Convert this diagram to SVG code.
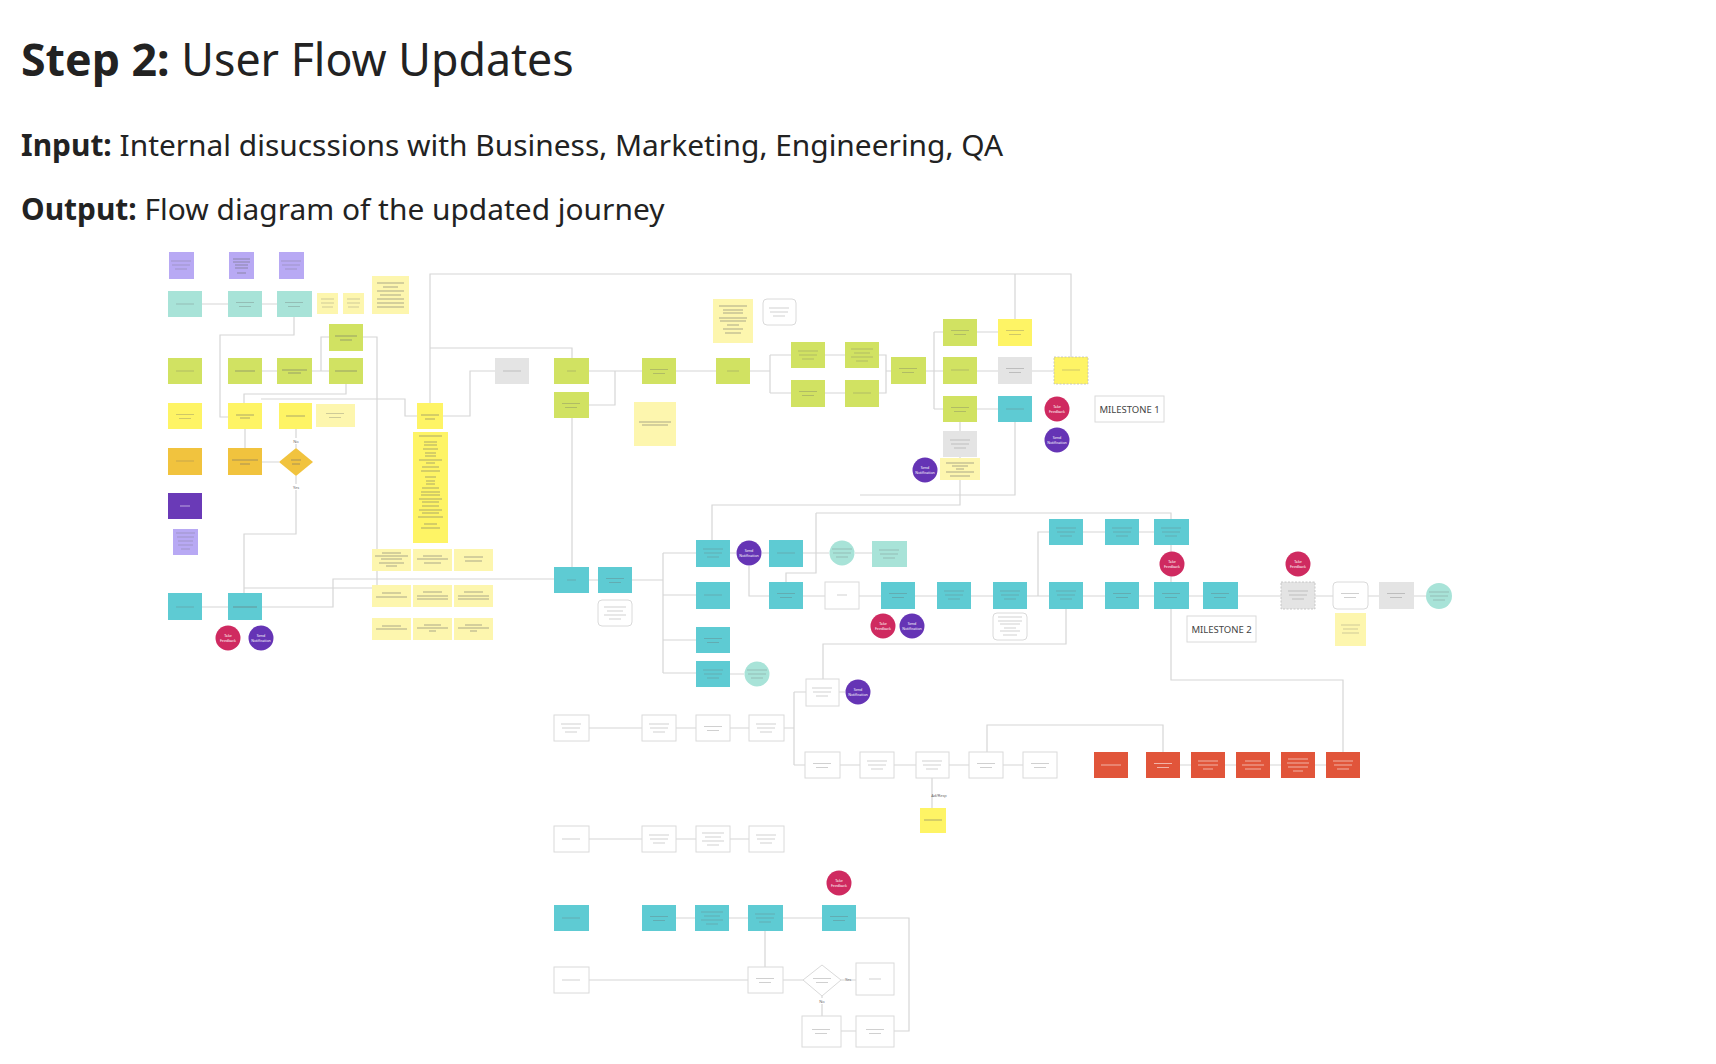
<svg xmlns="http://www.w3.org/2000/svg" xmlns:xlink="http://www.w3.org/1999/xlink" width="1716" height="1064" viewBox="0 0 1716 1064">
<style>
.h{font-family:"Noto Sans","Open Sans",sans-serif;fill:#222}
.c{fill:none;stroke:#d6d6d6;stroke-width:1.2}
.pl{fill:#b8a9f4}.mt{fill:#a8e3d8}.tq{fill:#5ecbd3}.gr{fill:#d1e262}.ye{fill:#fef465}.ly{fill:#fdf6ae}
.og{fill:#f1c33e}.dp{fill:#6a3ab7}.rd{fill:#cf2a60}.pc{fill:#6534b5}.gy{fill:#e4e4e4}.or{fill:#e1553a}
.w{fill:#fff;stroke:#dadada;stroke-width:1}
.ds{stroke:#bdbdbd;stroke-width:.8;stroke-dasharray:2 1.5}
.tl{stroke:#6b6b6b;stroke-width:1;opacity:.55;fill:none}
.tb{stroke:#6b6b6b;stroke-width:.8;opacity:.4;fill:none}
.tw{stroke:#fff;stroke-width:.8;opacity:.7;fill:none}
.ct{font-family:"Noto Sans",sans-serif;font-size:3.6px;fill:#fff;text-anchor:middle}
.lb{font-family:"Noto Sans",sans-serif;font-size:4px;fill:#666;text-anchor:middle}
.ms{font-family:"Noto Sans",sans-serif;font-size:9.5px;fill:#444;text-anchor:middle}
</style>
<defs>
<g id="b1"><path class="tb" d="M-9 0h18"/></g>
<g id="b2"><path class="tb" d="M-9 -1.5h18M-6 2.5h12"/></g>
<g id="b3"><path class="tb" d="M-10 -4h20M-9 0h18M-6 4h12"/></g>
<g id="b4"><path class="tb" d="M-11 -6h22M-8 -2h16M-11 2h22M-6 6h12"/></g>
<g id="w2"><path class="tw" d="M-9 -1.5h18M-6 2.5h12"/></g>
</defs>
<rect width="1716" height="1064" fill="#fff"/>

<g id="header">
<text class="h" x="21" y="76" font-size="44.7"><tspan font-weight="bold">Step 2:</tspan> User Flow Updates</text>
<text class="h" x="21" y="156" font-size="29.9"><tspan font-weight="bold">Input:</tspan> Internal disucssions with Business, Marketing, Engineering, QA</text>
<text class="h" x="21" y="220" font-size="29.9"><tspan font-weight="bold">Output:</tspan> Flow diagram of the updated journey</text>
</g>

<g id="connectors">
<path class="c" d="M202 304H228M262 304H277"/>
<path class="c" d="M294 317V335H220V417H228"/>
<path class="c" d="M262 371H277M312 371H329M321 371V337H329"/>
<path class="c" d="M363 337H377V588"/>
<path class="c" d="M346 384V394H244V403"/>
<path class="c" d="M261 399H405V416H417"/>
<path class="c" d="M245 429V448M262 462H279M296 448V429"/>
<path class="c" d="M296 476V534H244V593M244 588H377"/>
<path class="c" d="M202 607H228M262 607H333V579H554"/>
<path class="c" d="M430 403V274H1071V357M1015 274V319M430 348H572V358"/>
<path class="c" d="M443 416H470V371H495"/>
<path class="c" d="M589 371H642M589 405H615V371M676 371H716"/>
<path class="c" d="M750 371H770M770 355V393M770 355H791M770 393H791M825 355H845M825 393H845"/>
<path class="c" d="M879 355H886V393H879M886 371H891M926 371H934M934 332V409M934 332H943M934 371H943M934 409H943"/>
<path class="c" d="M977 332H998M977 371H998M977 409H998M1032 371H1054"/>
<path class="c" d="M960 422V431M960 457V458M1015 422V495H860M712 540V505H960V480"/>
<path class="c" d="M572 418V567M589 580H598M632 580H663M663 553V673M663 553H696M663 595H696M663 640H696M663 673H696"/>
<path class="c" d="M730 553H736M762 553H769M749 566V596H769M803 553H829M855 553H872"/>
<path class="c" d="M803 596H825M859 596H881M915 596H937M971 596H993M1027 596H1049M1038 596V532H1049M1083 532H1105M1139 532H1154"/>
<path class="c" d="M1083 596H1105M1139 596H1154M1189 596H1203M1238 596H1281M1315 596H1333M1368 596H1379M1414 596H1426"/>
<path class="c" d="M816 513H1171V680H1343V752M816 513V573H786V582"/>
<path class="c" d="M1066 609V644H823V679M730 674H744"/>
<path class="c" d="M784 728H794M794 692V765M794 692H806M794 765H805M839 692H845"/>
<path class="c" d="M589 728H642M676 728H696M730 728H749"/>
<path class="c" d="M840 765H860M894 765H916M949 765H969M1003 765H1023M987 752V725H1163V752M932 778V808"/>
<path class="c" d="M1180 765H1191M1225 765H1236M1270 765H1281M1315 765H1326"/>
<path class="c" d="M589 839H642M676 839H696M730 839H749"/>
<path class="c" d="M676 918H695M729 918H748M783 918H822M856 918H909V1031H894M856 1031H841"/>
<path class="c" d="M765 931V967M589 980H748M783 980H803M841 980H856M822 996V1016"/>
<rect x="290" y="438" width="12" height="6" fill="#fff"/><text class="lb" x="296" y="443">No</text>
<rect x="289" y="484" width="14" height="6" fill="#fff"/><text class="lb" x="296" y="489">Yes</text>
<text class="lb" x="848" y="981">Yes</text>
<rect x="817" y="998" width="10" height="6" fill="#fff"/><text class="lb" x="822" y="1003">No</text>
</g>

<g id="legend-left">
<g id="p1"><rect class="pl" x="169" y="252" width="25" height="27"/><use href="#b3" x="181" y="265"/></g>
<g id="p2"><rect class="pl" x="229" y="252" width="25" height="27"/><path class="tl" d="M233 259h17M233 262h17M235 265h13M235 268h13M237 273h9"/></g>
<g id="p3"><rect class="pl" x="279" y="252" width="25" height="27"/><use href="#b3" x="291" y="265"/></g>
<g id="m1"><rect class="mt" x="168" y="291" width="34" height="26"/><use href="#b1" x="185" y="304"/></g>
<g id="m2"><rect class="mt" x="228" y="291" width="34" height="26"/><use href="#b2" x="245" y="304"/></g>
<g id="m3"><rect class="mt" x="277" y="291" width="35" height="26"/><use href="#b2" x="294" y="304"/></g>
<g id="s1"><rect class="ly" x="317" y="293" width="21" height="21"/><path class="tb" d="M321 299h13M321 303h13M322 307h11"/></g>
<g id="s2"><rect class="ly" x="343" y="293" width="21" height="21"/><path class="tb" d="M347 299h13M347 303h13M348 307h11"/></g>
<g id="s3"><rect class="ly" x="372" y="276" width="37" height="38"/><path class="tl" d="M377 283h27M383 287h15M377 291h27M380 295h21M377 299h27M377 303h27M377 307h27"/></g>
<g id="g0"><rect class="gr" x="329" y="324" width="34" height="27"/><path class="tl" d="M335 336h22M340 340h12"/></g>
<g id="g1"><rect class="gr" x="168" y="358" width="34" height="26"/><use href="#b1" x="185" y="371"/></g>
<g id="g2"><rect class="gr" x="228" y="358" width="34" height="26"/><path class="tl" d="M235 371h20"/></g>
<g id="g3"><rect class="gr" x="277" y="358" width="35" height="26"/><path class="tl" d="M282 370h25M288 373h13"/></g>
<g id="g4"><rect class="gr" x="329" y="358" width="34" height="26"/><path class="tl" d="M335 371h22"/></g>
<g id="y1"><rect class="ye" x="168" y="403" width="34" height="26"/><use href="#b2" x="185" y="416"/></g>
<g id="y2"><rect class="ye" x="228" y="403" width="34" height="26"/><path class="tl" d="M236 415h18M240 418h10"/></g>
<g id="y3"><rect class="ye" x="279" y="403" width="33" height="26"/><path class="tl" d="M286 416h19"/></g>
<g id="y4"><rect class="ly" x="316" y="404" width="39" height="23"/><use href="#b2" x="335" y="415"/></g>
<g id="o1"><rect class="og" x="168" y="448" width="34" height="27"/><use href="#b1" x="185" y="461"/></g>
<g id="o2"><rect class="og" x="228" y="448" width="34" height="27"/><path class="tl" d="M232 460h26M240 464h10"/></g>
<g id="o3"><path class="og" d="M296 448L313 462L296 476L279 462Z"/><path class="tl" d="M291 460h10M292 464h8"/></g>
<g id="d1"><rect class="dp" x="168" y="493" width="34" height="26"/><path class="tw" d="M180 506h10"/></g>
<g id="p4"><rect class="pl" x="173" y="529" width="25" height="26"/><path class="tb" d="M176 533h19M177 537h17M178 541h15M178 545h15M181 549h9"/></g>
<g id="t1"><rect class="tq" x="168" y="593" width="34" height="27"/><use href="#b1" x="185" y="607"/></g>
<g id="t2"><rect class="tq" x="228" y="593" width="34" height="27"/><path class="tl" d="M233 607h24"/></g>
<g id="r1"><circle class="rd" cx="228" cy="638" r="12.5"/><text class="ct" x="228" y="637">Take<tspan x="228" dy="4.5">Feedback</tspan></text></g>
<g id="v1"><circle class="pc" cx="261" cy="638" r="12.5"/><text class="ct" x="261" y="637">Send<tspan x="261" dy="4.5">Notification</tspan></text></g>
</g>

<g id="stickies">
<g id="k1"><rect class="ye" x="417" y="403" width="26" height="26"/><path class="tl" d="M421 415h18M425 419h10"/></g>
<g id="k2"><rect class="ye" x="413" y="432" width="35" height="111"/><path class="tl" d="M419 436h23M424 442h13M424 445h13M423 449h15M425 453h11M425 456h11M419 460h23M426 463h9M422 467h17M421 471h19M425 477h11M426 481h9M426 484h9M422 488h17M421 492h19M421 495h19M419 499h23M422 502h17M422 506h17M419 510h23M422 513h17M418 517h25M424 524h13M421 528h19"/></g>
<g id="k3"><rect class="ly" x="372" y="549" width="39" height="22"/><path class="tl" d="M382 553h19M375 556h33M381 559h21M379 563h25M386 566h11"/></g>
<g id="k4"><rect class="ly" x="413" y="549" width="39" height="22"/><path class="tl" d="M423 556h19M417 559h31M424 563h17"/></g>
<g id="k5"><rect class="ly" x="454" y="549" width="39" height="22"/><path class="tl" d="M464 557h19M465 561h17"/></g>
<g id="k6"><rect class="ly" x="372" y="585" width="39" height="22"/><path class="tl" d="M382 593h19M376 597h31"/></g>
<g id="k7"><rect class="ly" x="413" y="585" width="39" height="22"/><path class="tl" d="M423 592h19M417 596h31M417 599h31"/></g>
<g id="k8"><rect class="ly" x="454" y="585" width="39" height="22"/><path class="tl" d="M464 592h19M458 596h31M458 599h31"/></g>
<g id="k9"><rect class="ly" x="372" y="618" width="39" height="22"/><path class="tl" d="M382 626h19M376 629h31"/></g>
<g id="k10"><rect class="ly" x="413" y="618" width="39" height="22"/><path class="tl" d="M424 625h17M417 628h31M429 631h7"/></g>
<g id="k11"><rect class="ly" x="454" y="618" width="39" height="22"/><path class="tl" d="M465 625h17M458 628h31M470 631h7"/></g>
</g>

<g id="top-flow">
<g id="n1"><rect class="gy" x="495" y="358" width="34" height="26"/><use href="#b1" x="512" y="371"/></g>
<g id="n2"><rect class="gr" x="554" y="358" width="35" height="26"/><path class="tb" d="M567 371h9"/></g>
<g id="n3"><rect class="gr" x="554" y="392" width="35" height="26"/><use href="#b2" x="571" y="405"/></g>
<g id="n4"><rect class="gr" x="642" y="358" width="34" height="26"/><use href="#b2" x="659" y="371"/></g>
<g id="n5"><rect class="ly" x="634" y="402" width="42" height="44"/><path class="tl" d="M639 422h32M642 425h26"/></g>
<g id="n6"><rect class="ly" x="713" y="299" width="40" height="44"/><path class="tl" d="M719 306h28M723 310h20M723 313h20M719 318h28M720 321h26M727 325h12M723 329h20M725 333h16"/></g>
<g id="n7"><rect class="w" x="763" y="299" width="33" height="26" rx="4"/><use href="#b3" x="779" y="312"/></g>
<g id="n8"><rect class="gr" x="716" y="358" width="34" height="26"/><path class="tb" d="M727 371h12"/></g>
<g id="n9"><rect class="gr" x="791" y="342" width="34" height="26"/><use href="#b3" x="808" y="355"/></g>
<g id="n10"><rect class="gr" x="791" y="380" width="34" height="27"/><use href="#b2" x="808" y="393"/></g>
<g id="n11"><rect class="gr" x="845" y="342" width="34" height="26"/><use href="#b4" x="862" y="355"/></g>
<g id="n12"><rect class="gr" x="845" y="380" width="34" height="27"/><use href="#b1" x="862" y="393"/></g>
<g id="n13"><rect class="gr" x="891" y="357" width="35" height="27"/><use href="#b2" x="908" y="370"/></g>
<g id="n14"><rect class="gr" x="943" y="319" width="34" height="27"/><use href="#b2" x="960" y="332"/></g>
<g id="n15"><rect class="gr" x="943" y="357" width="34" height="27"/><use href="#b1" x="960" y="370"/></g>
<g id="n16"><rect class="gr" x="943" y="396" width="34" height="26"/><use href="#b2" x="960" y="409"/></g>
<g id="n17"><rect class="ye" x="998" y="319" width="34" height="27"/><use href="#b2" x="1015" y="332"/></g>
<g id="n18"><rect class="gy" x="998" y="357" width="34" height="27"/><use href="#b2" x="1015" y="370"/></g>
<g id="n19"><rect class="tq" x="998" y="396" width="34" height="26"/><use href="#b1" x="1015" y="409"/></g>
<g id="n20"><rect class="ye ds" x="1054" y="357" width="34" height="27"/><use href="#b1" x="1071" y="370"/></g>
<g id="n21"><circle class="rd" cx="1057" cy="409" r="12.5"/><text class="ct" x="1057" y="408">Take<tspan x="1057" dy="4.5">Feedback</tspan></text></g>
<g id="n22"><circle class="pc" cx="1057" cy="440" r="12.5"/><text class="ct" x="1057" y="439">Send<tspan x="1057" dy="4.5">Notification</tspan></text></g>
<g id="n23"><rect class="w" x="1095" y="396" width="69" height="26"/><text class="ms" x="1129.5" y="412.5">MILESTONE 1</text></g>
<g id="n24"><rect class="gy" x="943" y="431" width="34" height="26"/><use href="#b3" x="960" y="444"/></g>
<g id="n25"><rect class="ly" x="940" y="458" width="40" height="22"/><path class="tl" d="M946 463h28M952 466h16M956 469h8M946 472h28M950 476h20"/></g>
<g id="n26"><circle class="pc" cx="925" cy="470" r="12.5"/><text class="ct" x="925" y="469">Send<tspan x="925" dy="4.5">Notification</tspan></text></g>
</g>

<g id="middle-flow">
<g id="q1"><rect class="tq" x="554" y="567" width="35" height="26"/><path class="tb" d="M567 580h9"/></g>
<g id="q2"><rect class="tq" x="598" y="567" width="34" height="26"/><use href="#b2" x="615" y="580"/></g>
<g id="q3"><rect class="w" x="598" y="600" width="34" height="26" rx="4"/><use href="#b4" x="615" y="613"/></g>
<g id="q4"><rect class="tq" x="696" y="540" width="34" height="27"/><use href="#b3" x="713" y="553"/></g>
<g id="q5"><rect class="tq" x="696" y="582" width="34" height="27"/><use href="#b1" x="713" y="595"/></g>
<g id="q6"><rect class="tq" x="696" y="627" width="34" height="26"/><use href="#b2" x="713" y="640"/></g>
<g id="q7"><rect class="tq" x="696" y="661" width="34" height="26"/><use href="#b3" x="713" y="674"/></g>
<g id="q8"><circle class="pc" cx="749" cy="553" r="12.5"/><text class="ct" x="749" y="552">Send<tspan x="749" dy="4.5">Notification</tspan></text></g>
<g id="q9"><rect class="tq" x="769" y="540" width="34" height="27"/><use href="#b1" x="786" y="553"/></g>
<g id="q10"><circle class="mt" cx="842" cy="553" r="12.5"/><use href="#b3" x="842" y="553"/></g>
<g id="q11"><rect class="mt" x="872" y="541" width="35" height="26"/><use href="#b3" x="889" y="554"/></g>
<g id="q12"><rect class="tq" x="769" y="582" width="34" height="27"/><use href="#b2" x="786" y="595"/></g>
<g id="q13"><rect class="w" x="825" y="582" width="34" height="27"/><path class="tb" d="M837 595h10"/></g>
<g id="q14"><rect class="tq" x="881" y="582" width="34" height="27"/><use href="#b2" x="898" y="595"/></g>
<g id="q15"><rect class="tq" x="937" y="582" width="34" height="27"/><use href="#b3" x="954" y="595"/></g>
<g id="q16"><rect class="tq" x="993" y="582" width="34" height="27"/><use href="#b3" x="1010" y="595"/></g>
<g id="q17"><rect class="tq" x="1049" y="582" width="34" height="27"/><use href="#b3" x="1066" y="595"/></g>
<g id="q18"><rect class="tq" x="1105" y="582" width="34" height="27"/><use href="#b2" x="1122" y="595"/></g>
<g id="q19"><rect class="tq" x="1154" y="582" width="35" height="27"/><use href="#b2" x="1171" y="595"/></g>
<g id="q20"><rect class="tq" x="1203" y="582" width="35" height="27"/><use href="#b2" x="1220" y="595"/></g>
<g id="q21"><rect class="gy ds" x="1281" y="582" width="34" height="27"/><use href="#b3" x="1298" y="595"/></g>
<g id="q22"><rect class="w" x="1333" y="582" width="35" height="27" rx="4"/><use href="#b2" x="1350" y="595"/></g>
<g id="q23"><rect class="gy" x="1379" y="582" width="35" height="27"/><use href="#b2" x="1396" y="595"/></g>
<g id="q24"><circle class="mt" cx="1439" cy="596" r="13"/><use href="#b3" x="1439" y="596"/></g>
<g id="q25"><rect class="tq" x="1049" y="519" width="34" height="26"/><use href="#b3" x="1066" y="532"/></g>
<g id="q26"><rect class="tq" x="1105" y="519" width="34" height="26"/><use href="#b3" x="1122" y="532"/></g>
<g id="q27"><rect class="tq" x="1154" y="519" width="35" height="26"/><use href="#b3" x="1171" y="532"/></g>
<g id="q28"><circle class="rd" cx="883" cy="626" r="12.5"/><text class="ct" x="883" y="625">Take<tspan x="883" dy="4.5">Feedback</tspan></text></g>
<g id="q29"><circle class="pc" cx="912" cy="626" r="12.5"/><text class="ct" x="912" y="625">Send<tspan x="912" dy="4.5">Notification</tspan></text></g>
<g id="q30"><circle class="rd" cx="1172" cy="564" r="12.5"/><text class="ct" x="1172" y="563">Take<tspan x="1172" dy="4.5">Feedback</tspan></text></g>
<g id="q31"><circle class="rd" cx="1298" cy="564" r="12.5"/><text class="ct" x="1298" y="563">Take<tspan x="1298" dy="4.5">Feedback</tspan></text></g>
<g id="q32"><rect class="w" x="993" y="613" width="34" height="27" rx="4"/><path class="tb" d="M998 617h24M998 621h24M1000 624h20M1004 628h12M1000 631h20M1003 635h14"/></g>
<g id="q33"><rect class="w" x="1187" y="616" width="69" height="26"/><text class="ms" x="1221.5" y="632.5">MILESTONE 2</text></g>
<g id="q34"><rect class="ly" x="1335" y="613" width="31" height="33"/><path class="tb" d="M1341 625h19M1343 629h15M1342 633h17"/></g>
<g id="q35"><circle class="mt" cx="757" cy="674" r="12.5"/><use href="#b3" x="757" y="674"/></g>
<g id="q36"><rect class="w" x="806" y="679" width="33" height="27"/><use href="#b3" x="822" y="692"/></g>
<g id="q37"><circle class="pc" cx="858" cy="692" r="12.5"/><text class="ct" x="858" y="691">Send<tspan x="858" dy="4.5">Notification</tspan></text></g>
</g>

<g id="lower-flow">
<g id="u1"><rect class="w" x="554" y="715" width="35" height="26"/><use href="#b3" x="571" y="728"/></g>
<g id="u2"><rect class="w" x="642" y="715" width="34" height="26"/><use href="#b3" x="659" y="728"/></g>
<g id="u3"><rect class="w" x="696" y="715" width="34" height="26"/><use href="#b2" x="713" y="728"/></g>
<g id="u4"><rect class="w" x="749" y="715" width="35" height="26"/><use href="#b3" x="766" y="728"/></g>
<g id="u5"><rect class="w" x="805" y="752" width="35" height="26"/><use href="#b2" x="822" y="765"/></g>
<g id="u6"><rect class="w" x="860" y="752" width="34" height="26"/><use href="#b3" x="877" y="765"/></g>
<g id="u7"><rect class="w" x="916" y="752" width="33" height="26"/><use href="#b3" x="932" y="765"/></g>
<g id="u8"><rect class="w" x="969" y="752" width="34" height="26"/><use href="#b2" x="986" y="765"/></g>
<g id="u9"><rect class="w" x="1023" y="752" width="34" height="26"/><use href="#b2" x="1040" y="765"/></g>
<g id="u10"><rect class="or" x="1094" y="752" width="34" height="26"/><path class="tw" d="M1101 765h20"/></g>
<g id="u11"><rect class="or" x="1146" y="752" width="34" height="26"/><use href="#w2" x="1163" y="765"/></g>
<g id="u12"><rect class="or" x="1191" y="752" width="34" height="26"/><path class="tw" d="M1198 761h20M1198 765h20M1203 769h10"/></g>
<g id="u13"><rect class="or" x="1236" y="752" width="34" height="26"/><path class="tw" d="M1245 761h16M1242 765h22M1245 769h16"/></g>
<g id="u14"><rect class="or" x="1281" y="752" width="34" height="26"/><path class="tw" d="M1288 759h20M1287 763h22M1288 767h20M1293 771h10"/></g>
<g id="u15"><rect class="or" x="1326" y="752" width="34" height="26"/><path class="tw" d="M1333 761h20M1334 765h18M1337 769h12"/></g>
<g id="u16"><rect class="ye" x="920" y="808" width="26" height="25"/><path class="tl" d="M924 820h18"/><text class="lb" x="939" y="797">Ad/Resp</text></g>
<g id="u17"><rect class="w" x="554" y="826" width="35" height="26"/><use href="#b1" x="571" y="839"/></g>
<g id="u18"><rect class="w" x="642" y="826" width="34" height="26"/><use href="#b3" x="659" y="839"/></g>
<g id="u19"><rect class="w" x="696" y="826" width="34" height="26"/><use href="#b4" x="713" y="839"/></g>
<g id="u20"><rect class="w" x="749" y="826" width="35" height="26"/><use href="#b3" x="766" y="839"/></g>
<g id="u21"><circle class="rd" cx="839" cy="883" r="12.5"/><text class="ct" x="839" y="882">Take<tspan x="839" dy="4.5">Feedback</tspan></text></g>
<g id="u22"><rect class="tq" x="554" y="905" width="35" height="26"/><use href="#b1" x="571" y="918"/></g>
<g id="u23"><rect class="tq" x="642" y="905" width="34" height="26"/><use href="#b2" x="659" y="918"/></g>
<g id="u24"><rect class="tq" x="695" y="905" width="34" height="26"/><use href="#b4" x="712" y="918"/></g>
<g id="u25"><rect class="tq" x="748" y="905" width="35" height="26"/><use href="#b3" x="765" y="918"/></g>
<g id="u26"><rect class="tq" x="822" y="905" width="34" height="26"/><use href="#b2" x="839" y="918"/></g>
<g id="u27"><rect class="w" x="554" y="967" width="35" height="26"/><use href="#b1" x="571" y="980"/></g>
<g id="u28"><rect class="w" x="748" y="967" width="35" height="26"/><use href="#b2" x="765" y="980"/></g>
<g id="u29"><path class="w" d="M822 965L841 980L822 996L803 980Z"/><use href="#b2" x="822" y="980"/></g>
<g id="u30"><rect class="w" x="856" y="963" width="38" height="32"/><path class="tb" d="M869 979h12"/></g>
<g id="u31"><rect class="w" x="802" y="1016" width="39" height="31"/><use href="#b2" x="821" y="1031"/></g>
<g id="u32"><rect class="w" x="856" y="1016" width="38" height="31"/><use href="#b2" x="875" y="1031"/></g>
</g>
</svg>
